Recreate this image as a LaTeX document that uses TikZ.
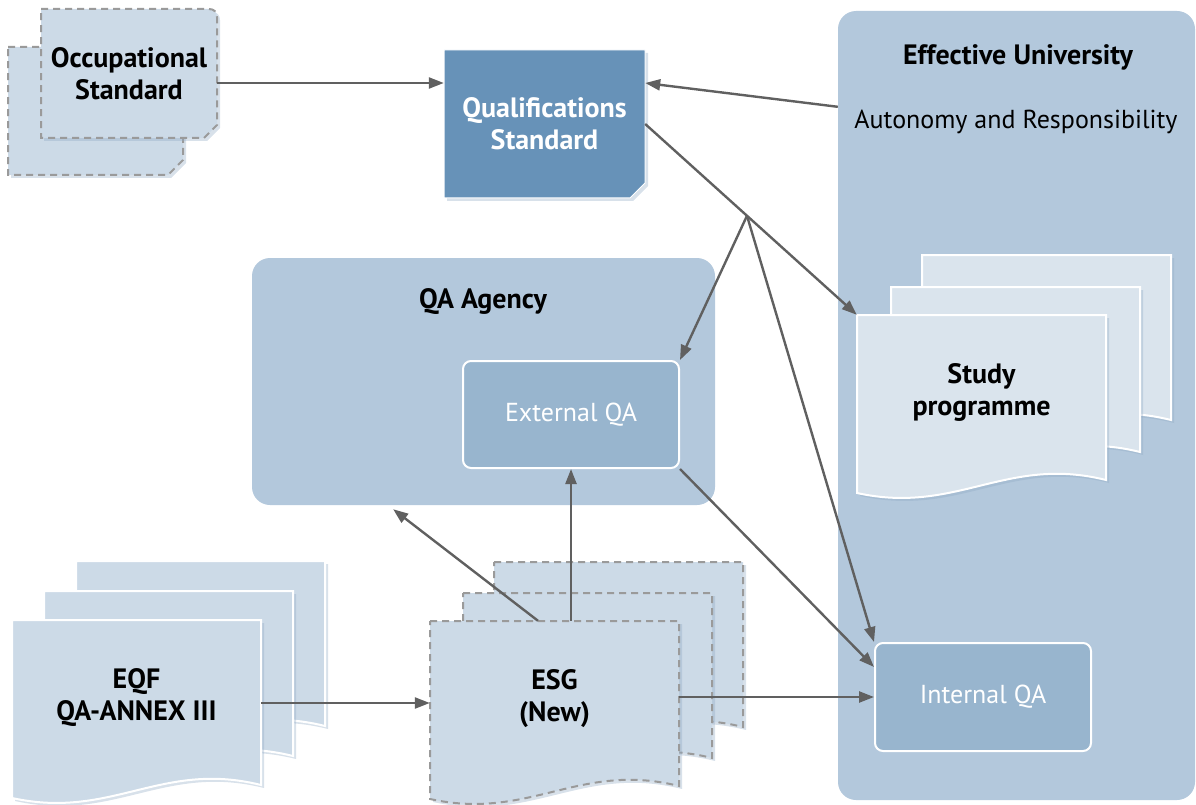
\documentclass[tikz,border=0pt]{standalone}
\usepackage{fontspec}
\setmainfont{PT Sans}
\usetikzlibrary{arrows.meta,shadows,calc}

\definecolor{panelblue}{HTML}{B3C8DC}
\definecolor{innerblue}{HTML}{98B5CE}
\definecolor{qualblue}{HTML}{6792B8}
\definecolor{sheetblue}{HTML}{CCDAE7}
\definecolor{sheetlight}{HTML}{DAE4ED}
\definecolor{dashgray}{HTML}{9A9A9A}
\definecolor{arrowgray}{HTML}{606060}
\definecolor{shadeblue}{HTML}{8FA9C4}

% outline of one page with a wavy lower edge, top-left corner at the origin
\newcommand{\sheetoutline}{(0,0) -- (249,0) -- (249,165) .. controls (149,140) and (100,200) .. (0,178) -- cycle}

\tikzset{
  txt/.style={font=\fontsize{26}{32}\selectfont},
  btxt/.style={font=\fontsize{28}{32}\selectfont\bfseries},
  panel/.style={fill=panelblue, rounded corners=18pt, inner sep=0pt},
  qabox/.style={txt, draw=white, line width=2pt, fill=innerblue, rounded corners=8pt,
    minimum width=216pt, minimum height=107pt, text=white, inner sep=0pt},
  frame/.style={btxt, inner sep=0pt, align=center},
  shadowed/.style={drop shadow={shadow xshift=3pt, shadow yshift=-3pt, fill=shadeblue, opacity=0.35}},
  solidsheet/.style={fill=sheetblue, draw=white, line width=2pt, shadowed},
  lightsheet/.style={fill=sheetlight, draw=white, line width=2pt, shadowed},
  dashsheet/.style={fill=sheetblue, draw=dashgray, line width=2pt, dash pattern=on 7pt off 5pt, shadowed},
  arr/.style={draw=arrowgray, line width=2.4pt, -{Triangle[length=15pt,width=11pt]}}
}

\begin{document}
\begin{tikzpicture}[x=1pt, y=-1pt]
\useasboundingbox (0,0) rectangle (1196,805);

% containers
\node[panel, minimum width=357pt, minimum height=789pt] (eu) at (1016.5,405.5) {};
\node[panel, minimum width=463pt, minimum height=247pt] (qaa) at (483.5,381.5) {};
\node[btxt] (eutitle) at (1018,57) {Effective University};
\node[txt] (eusub) at (1016,122) {Autonomy and Responsibility};
\node[btxt] (qaatitle) at (483,302) {QA Agency};

% occupational standard (two dashed cards)
\path[dashsheet] (8,47) -- (183,47) -- (183,160) -- (168,175) -- (8,175) -- cycle;
\path[dashsheet] (41,9) -- (209,9) .. controls (214,9) and (217,12) .. (217,17)
  -- (217,125) -- (204,138) -- (41,138) -- cycle;
\node[frame, minimum width=176pt, minimum height=129pt] (occ) at (129,74) {Occupational\\Standard};

% qualifications standard
\path[fill=qualblue, draw=white, line width=1pt, shadowed]
  (444,50) -- (645,50) -- (645,183) -- (630,198) -- (444,198) -- cycle;
\node[frame, text=white, minimum width=201pt, minimum height=148pt] (qs) at (544.5,124) {Qualifications\\Standard};

% study programme stack
\begin{scope}[shift={(922,255)}] \path[lightsheet] \sheetoutline; \end{scope}
\begin{scope}[shift={(891,287)}] \path[lightsheet] \sheetoutline; \end{scope}
\begin{scope}[shift={(857,315)}] \path[lightsheet] \sheetoutline; \end{scope}
\node[frame, minimum width=249pt, minimum height=155pt] (sp) at (981.5,392.5) {Study\\programme};

% EQF stack
\begin{scope}[shift={(76,561)}] \path[solidsheet] \sheetoutline; \end{scope}
\begin{scope}[shift={(44,591)}] \path[solidsheet] \sheetoutline; \end{scope}
\begin{scope}[shift={(12,620)}] \path[solidsheet] \sheetoutline; \end{scope}
\node[frame, minimum width=249pt, minimum height=155pt] (eqf) at (136.5,697.5) {EQF\\QA-ANNEX III};

% ESG stack (dashed)
\begin{scope}[shift={(494,562)}] \path[dashsheet] \sheetoutline; \end{scope}
\begin{scope}[shift={(463,593)}] \path[dashsheet] \sheetoutline; \end{scope}
\begin{scope}[shift={(430,621)}] \path[dashsheet] \sheetoutline; \end{scope}
\node[frame, minimum width=249pt, minimum height=155pt] (esg) at (554.5,698.5) {ESG\\(New)};

% quality assurance boxes
\node[qabox] (eqa) at (571,414.5) {External QA};
\node[qabox, minimum height=108pt] (iqa) at (983,697) {Internal QA};

% connectors
\coordinate (qsin) at ([yshift=41pt]qs.west);
\coordinate (jn) at ($(qs.east)!0.481!(sp.north west)$);
\coordinate (eqfout) at ([yshift=-5.5pt]eqf.east);
\draw[arr] (occ.east |- qsin) -- (qsin);
\draw[arr] ([yshift=-96pt]eu.north west) -- ([yshift=41pt]qs.east);
\draw[arr] (qs.east) -- (sp.north west);
\draw[arr] (jn) -- (eqa.north east);
\draw[arr] (jn) -- (iqa.north west);
\draw[arr] (eqa.south east) -- ([yshift=30pt]iqa.west);
\draw[arr] (eqfout) -- (eqfout -| esg.west);
\draw[arr] (iqa.west -| esg.east) -- (iqa.west);
\draw[arr] (esg.north -| eqa.south) -- (eqa.south);
\draw[arr] ([xshift=-16.5pt]esg.north) -- ($(qaa.south west)!0.305!(qaa.south east)+(0,4)$);
\end{tikzpicture}
\end{document}
